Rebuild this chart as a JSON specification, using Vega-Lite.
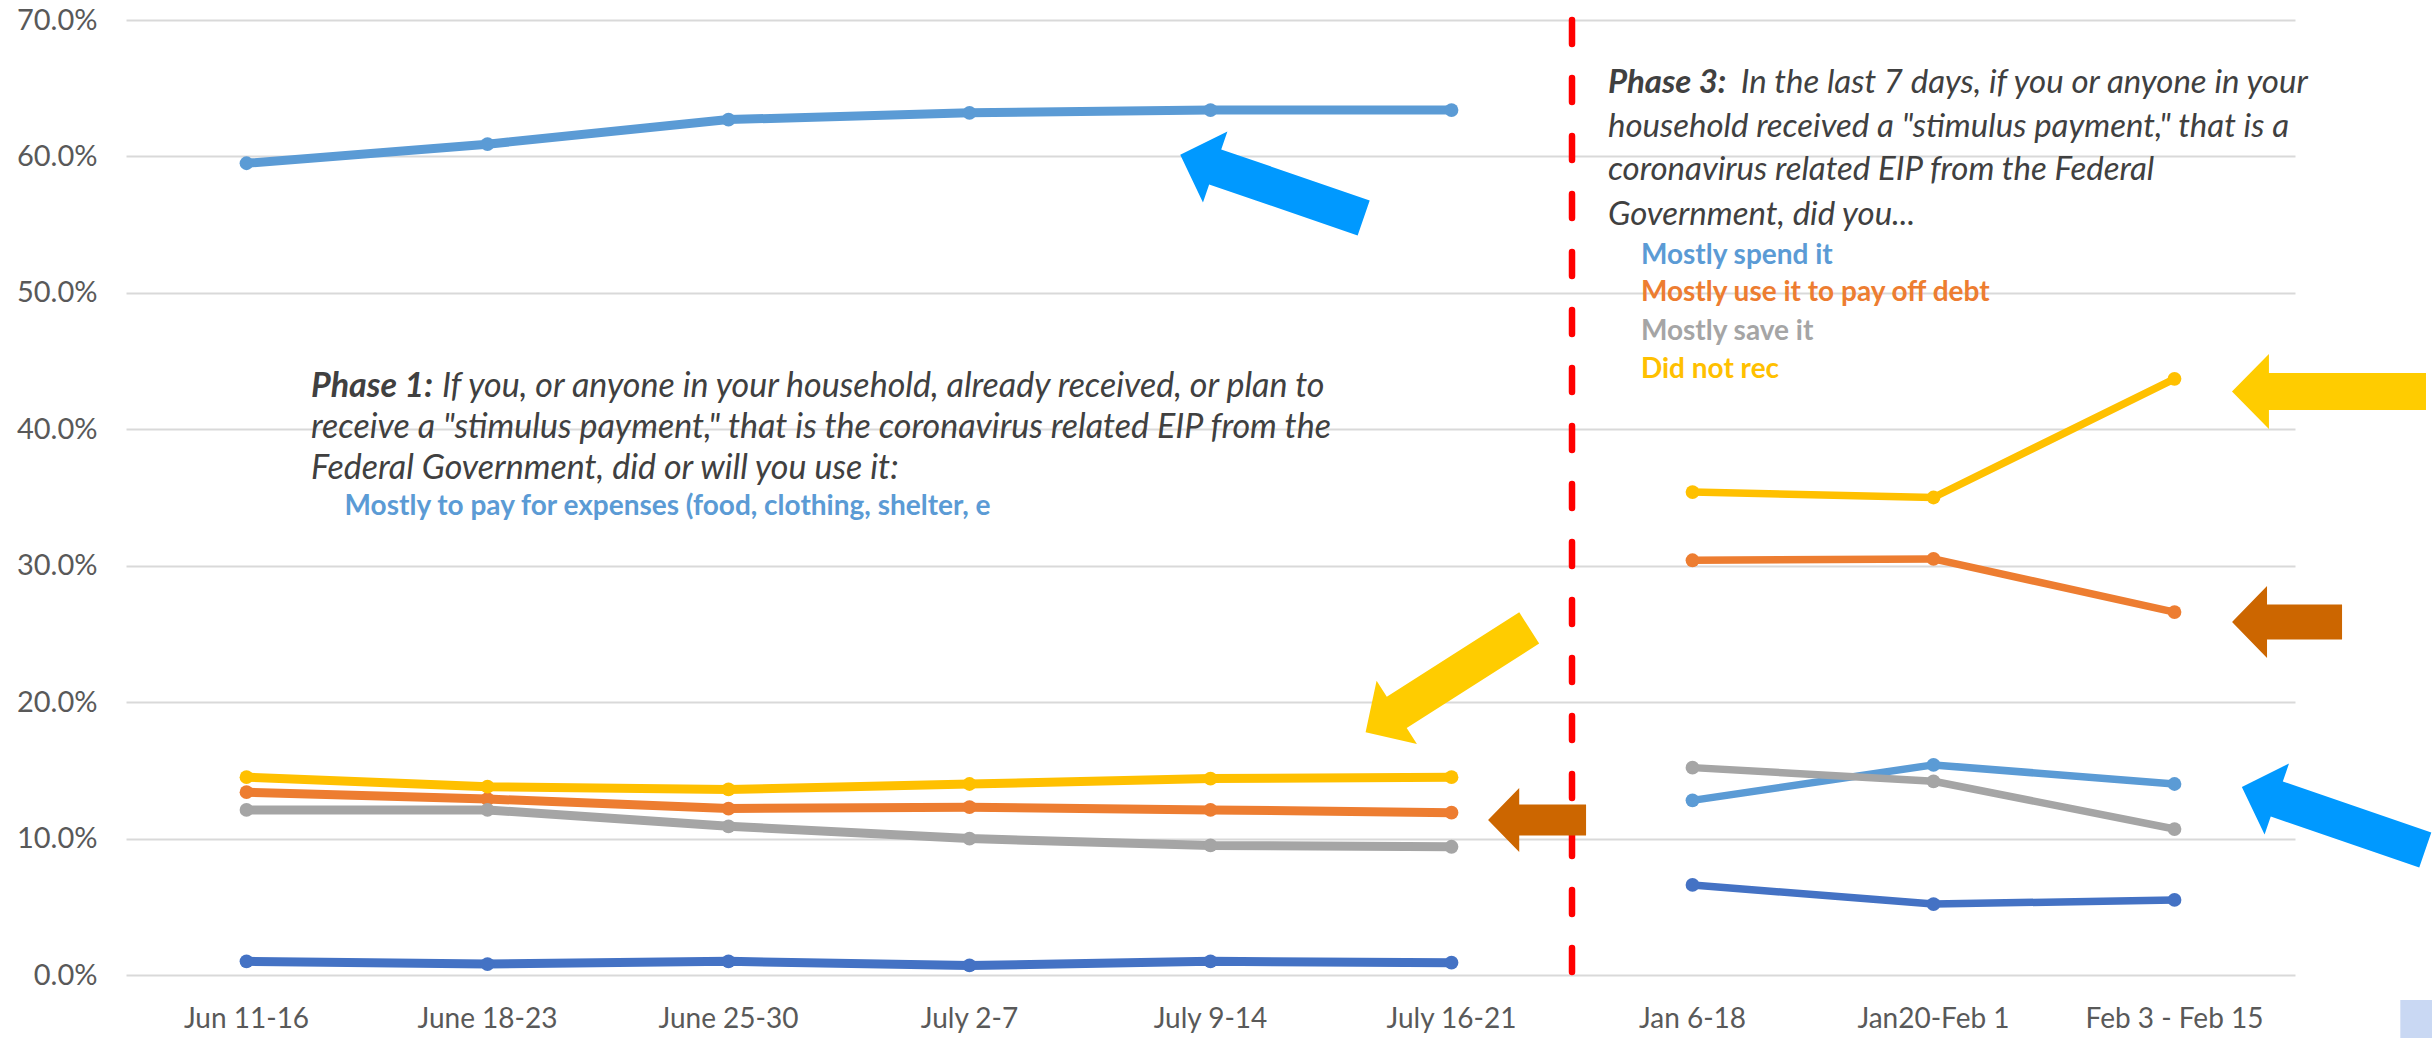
{
  "$schema": "https://vega.github.io/schema/vega-lite/v6.json",
  "autosize": {"type": "none"},
  "width": 2169,
  "height": 955,
  "padding": {"left": 126, "top": 20, "right": 137, "bottom": 63},
  "background": "white",
  "config": {"view": {"stroke": null}, "font": "Lato"},
  "datasets": {
    "pulse": [
      {"period": "Jun 11-16", "phase": "Phase 1", "series": "Mostly spend it", "share": 0.595},
      {"period": "June 18-23", "phase": "Phase 1", "series": "Mostly spend it", "share": 0.609},
      {"period": "June 25-30", "phase": "Phase 1", "series": "Mostly spend it", "share": 0.627},
      {"period": "July 2-7", "phase": "Phase 1", "series": "Mostly spend it", "share": 0.632},
      {"period": "July 9-14", "phase": "Phase 1", "series": "Mostly spend it", "share": 0.634},
      {"period": "July 16-21", "phase": "Phase 1", "series": "Mostly spend it", "share": 0.634},
      {"period": "Jan 6-18", "phase": "Phase 3", "series": "Mostly spend it", "share": 0.128},
      {"period": "Jan20-Feb 1", "phase": "Phase 3", "series": "Mostly spend it", "share": 0.154},
      {"period": "Feb 3 - Feb 15", "phase": "Phase 3", "series": "Mostly spend it", "share": 0.140},

      {"period": "Jun 11-16", "phase": "Phase 1", "series": "Mostly use it to pay off debt", "share": 0.134},
      {"period": "June 18-23", "phase": "Phase 1", "series": "Mostly use it to pay off debt", "share": 0.129},
      {"period": "June 25-30", "phase": "Phase 1", "series": "Mostly use it to pay off debt", "share": 0.122},
      {"period": "July 2-7", "phase": "Phase 1", "series": "Mostly use it to pay off debt", "share": 0.123},
      {"period": "July 9-14", "phase": "Phase 1", "series": "Mostly use it to pay off debt", "share": 0.121},
      {"period": "July 16-21", "phase": "Phase 1", "series": "Mostly use it to pay off debt", "share": 0.119},
      {"period": "Jan 6-18", "phase": "Phase 3", "series": "Mostly use it to pay off debt", "share": 0.304},
      {"period": "Jan20-Feb 1", "phase": "Phase 3", "series": "Mostly use it to pay off debt", "share": 0.305},
      {"period": "Feb 3 - Feb 15", "phase": "Phase 3", "series": "Mostly use it to pay off debt", "share": 0.266},

      {"period": "Jun 11-16", "phase": "Phase 1", "series": "Mostly save it", "share": 0.121},
      {"period": "June 18-23", "phase": "Phase 1", "series": "Mostly save it", "share": 0.121},
      {"period": "June 25-30", "phase": "Phase 1", "series": "Mostly save it", "share": 0.109},
      {"period": "July 2-7", "phase": "Phase 1", "series": "Mostly save it", "share": 0.100},
      {"period": "July 9-14", "phase": "Phase 1", "series": "Mostly save it", "share": 0.095},
      {"period": "July 16-21", "phase": "Phase 1", "series": "Mostly save it", "share": 0.094},
      {"period": "Jan 6-18", "phase": "Phase 3", "series": "Mostly save it", "share": 0.152},
      {"period": "Jan20-Feb 1", "phase": "Phase 3", "series": "Mostly save it", "share": 0.142},
      {"period": "Feb 3 - Feb 15", "phase": "Phase 3", "series": "Mostly save it", "share": 0.107},

      {"period": "Jun 11-16", "phase": "Phase 1", "series": "Did not receive", "share": 0.145},
      {"period": "June 18-23", "phase": "Phase 1", "series": "Did not receive", "share": 0.138},
      {"period": "June 25-30", "phase": "Phase 1", "series": "Did not receive", "share": 0.136},
      {"period": "July 2-7", "phase": "Phase 1", "series": "Did not receive", "share": 0.140},
      {"period": "July 9-14", "phase": "Phase 1", "series": "Did not receive", "share": 0.144},
      {"period": "July 16-21", "phase": "Phase 1", "series": "Did not receive", "share": 0.145},
      {"period": "Jan 6-18", "phase": "Phase 3", "series": "Did not receive", "share": 0.354},
      {"period": "Jan20-Feb 1", "phase": "Phase 3", "series": "Did not receive", "share": 0.350},
      {"period": "Feb 3 - Feb 15", "phase": "Phase 3", "series": "Did not receive", "share": 0.437},

      {"period": "Jun 11-16", "phase": "Phase 1", "series": "Did not report", "share": 0.010},
      {"period": "June 18-23", "phase": "Phase 1", "series": "Did not report", "share": 0.008},
      {"period": "June 25-30", "phase": "Phase 1", "series": "Did not report", "share": 0.010},
      {"period": "July 2-7", "phase": "Phase 1", "series": "Did not report", "share": 0.007},
      {"period": "July 9-14", "phase": "Phase 1", "series": "Did not report", "share": 0.010},
      {"period": "July 16-21", "phase": "Phase 1", "series": "Did not report", "share": 0.009},
      {"period": "Jan 6-18", "phase": "Phase 3", "series": "Did not report", "share": 0.066},
      {"period": "Jan20-Feb 1", "phase": "Phase 3", "series": "Did not report", "share": 0.052},
      {"period": "Feb 3 - Feb 15", "phase": "Phase 3", "series": "Did not report", "share": 0.055}
    ]
  },
  "layer": [
    {
      "data": {"name": "pulse"},
      "mark": {
        "type": "line",
        "strokeJoin": "round",
        "strokeCap": "round",
        "point": {"filled": true, "size": 190, "opacity": 1}
      },
      "encoding": {
        "x": {
          "field": "period",
          "type": "ordinal",
          "scale": {
            "type": "band",
            "paddingInner": 0,
            "paddingOuter": 0,
            "domain": ["Jun 11-16", "June 18-23", "June 25-30", "July 2-7", "July 9-14", "July 16-21", "Jan 6-18", "Jan20-Feb 1", "Feb 3 - Feb 15"]
          },
          "axis": {
            "title": null,
            "ticks": false,
            "domain": false,
            "grid": false,
            "labelAngle": 0,
            "labelFont": "Lato",
            "labelFontSize": 28,
            "labelColor": "#595959",
            "labelPadding": 30
          }
        },
        "y": {
          "field": "share",
          "type": "quantitative",
          "scale": {"domain": [0, 0.7], "nice": false},
          "axis": {
            "title": null,
            "values": [0, 0.1, 0.2, 0.3, 0.4, 0.5, 0.6, 0.7],
            "format": ".1%",
            "grid": true,
            "gridColor": "#D9D9D9",
            "gridWidth": 2,
            "domain": false,
            "ticks": false,
            "labelFont": "Lato",
            "labelFontSize": 29,
            "labelColor": "#595959",
            "labelPadding": 29
          }
        },
        "color": {
          "field": "series",
          "type": "nominal",
          "scale": {
            "domain": ["Mostly spend it", "Mostly use it to pay off debt", "Mostly save it", "Did not receive", "Did not report"],
            "range": ["#5B9BD5", "#ED7D31", "#A5A5A5", "#FFC000", "#4472C4"]
          },
          "legend": null
        },
        "strokeWidth": {
          "field": "phase",
          "type": "nominal",
          "scale": {"domain": ["Phase 1", "Phase 3"], "range": [9, 7.5]},
          "legend": null
        },
        "detail": {"field": "phase"}
      }
    },
    {
      "data": {"values": [{}]},
      "mark": {"type": "rule", "color": "#FF0000", "strokeWidth": 6.5, "strokeDash": [24, 34], "strokeCap": "round"},
      "encoding": {"x": {"datum": "Jan 6-18", "type": "ordinal", "bandPosition": 0}}
    },
    {
      "data": {"values": [{}]},
      "mark": {"type": "point", "shape": "M-1,0L-0.619,-0.387L-0.619,-0.191L1,-0.191L1,0.191L-0.619,0.191L-0.619,0.387Z", "filled": true, "opacity": 1, "strokeWidth": 0, "size": 37636, "angle": 19, "color": "#0099FF"},
      "encoding": {"x": {"datum": "July 9-14", "type": "ordinal", "bandPosition": 0.755}, "y": {"datum": 0.578, "type": "quantitative"}}
    },
    {
      "data": {"values": [{}]},
      "mark": {"type": "point", "shape": "M-1,0L-0.619,-0.387L-0.619,-0.191L1,-0.191L1,0.191L-0.619,0.191L-0.619,0.387Z", "filled": true, "opacity": 1, "strokeWidth": 0, "size": 37636, "angle": 19, "color": "#0099FF"},
      "encoding": {"x": {"datum": "Feb 3 - Feb 15", "type": "ordinal", "bandPosition": 1.16}, "y": {"datum": 0.1147, "type": "quantitative"}}
    },
    {
      "data": {"values": [{}]},
      "mark": {"type": "point", "shape": "M-1,0L-0.619,-0.387L-0.619,-0.191L1,-0.191L1,0.191L-0.619,0.191L-0.619,0.387Z", "filled": true, "opacity": 1, "strokeWidth": 0, "size": 37636, "angle": 327.5, "color": "#FFCC00"},
      "encoding": {"x": {"datum": "July 16-21", "type": "ordinal", "bandPosition": 0.483}, "y": {"datum": 0.2162, "type": "quantitative"}}
    },
    {
      "data": {"values": [{}]},
      "mark": {"type": "point", "shape": "M-1,0L-0.619,-0.387L-0.619,-0.191L1,-0.191L1,0.191L-0.619,0.191L-0.619,0.387Z", "filled": true, "opacity": 1, "strokeWidth": 0, "size": 37636, "angle": 0, "color": "#FFCC00"},
      "encoding": {"x": {"datum": "Feb 3 - Feb 15", "type": "ordinal", "bandPosition": 1.141}, "y": {"datum": 0.4277, "type": "quantitative"}}
    },
    {
      "data": {"values": [{}]},
      "mark": {"type": "point", "shape": "M-1,0L-0.364,-0.655L-0.364,-0.318L1,-0.318L1,0.318L-0.364,0.318L-0.364,0.655Z", "filled": true, "opacity": 1, "strokeWidth": 0, "size": 12100, "angle": 0, "color": "#CC6600"},
      "encoding": {"x": {"datum": "Feb 3 - Feb 15", "type": "ordinal", "bandPosition": 0.967}, "y": {"datum": 0.2587, "type": "quantitative"}}
    },
    {
      "data": {"values": [{}]},
      "mark": {"type": "point", "shape": "M-1,0L-0.364,-0.655L-0.364,-0.318L1,-0.318L1,0.318L-0.364,0.318L-0.364,0.655Z", "filled": true, "opacity": 1, "strokeWidth": 0, "size": 9604, "angle": 0, "color": "#CC6600"},
      "encoding": {"x": {"datum": "July 16-21", "type": "ordinal", "bandPosition": 0.855}, "y": {"datum": 0.1136, "type": "quantitative"}}
    },
    {
      "data": {"values": [{}]},
      "mark": {"type": "point", "shape": "square", "filled": true, "opacity": 1, "strokeWidth": 0, "size": 1600, "color": "#C9D8F3"},
      "encoding": {"x": {"datum": "Feb 3 - Feb 15", "type": "ordinal", "bandPosition": 1.52}, "y": {"datum": -0.033, "type": "quantitative"}}
    },
    {
      "data": {"values": [{}]},
      "mark": {"type": "text", "text": "Phase 1:", "align": "left", "baseline": "middle", "font": "Lato", "fontSize": 34, "fontStyle": "italic", "fontWeight": "bold", "color": "#404040"},
      "encoding": {"x": {"datum": "Jun 11-16", "type": "ordinal", "bandPosition": 0.768}, "y": {"datum": 0.4312, "type": "quantitative"}}
    },
    {
      "data": {"values": [{}]},
      "mark": {"type": "text", "text": "If you, or anyone in your household, already received, or plan to", "align": "left", "baseline": "middle", "font": "Lato", "fontSize": 34, "fontStyle": "italic", "color": "#404040"},
      "encoding": {"x": {"datum": "June 18-23", "type": "ordinal", "bandPosition": 0.311}, "y": {"datum": 0.4312, "type": "quantitative"}}
    },
    {
      "data": {"values": [{}]},
      "mark": {"type": "text", "text": "receive a \"stimulus payment,\" that is the coronavirus related EIP from the", "align": "left", "baseline": "middle", "font": "Lato", "fontSize": 34, "fontStyle": "italic", "color": "#404040"},
      "encoding": {"x": {"datum": "Jun 11-16", "type": "ordinal", "bandPosition": 0.768}, "y": {"datum": 0.4007, "type": "quantitative"}}
    },
    {
      "data": {"values": [{}]},
      "mark": {"type": "text", "text": "Federal Government, did or will you use it:", "align": "left", "baseline": "middle", "font": "Lato", "fontSize": 34, "fontStyle": "italic", "color": "#404040"},
      "encoding": {"x": {"datum": "Jun 11-16", "type": "ordinal", "bandPosition": 0.768}, "y": {"datum": 0.3707, "type": "quantitative"}}
    },
    {
      "data": {"values": [{}]},
      "mark": {"type": "text", "text": "Mostly to pay for expenses  (food, clothing, shelter, e", "align": "left", "baseline": "middle", "font": "Lato", "fontSize": 28, "fontWeight": "bold"},
      "encoding": {"x": {"datum": "Jun 11-16", "type": "ordinal", "bandPosition": 0.907}, "y": {"datum": 0.3433, "type": "quantitative"}, "color": {"datum": "Mostly spend it"}}
    },
    {
      "data": {"values": [{}]},
      "mark": {"type": "text", "text": "Phase 3:", "align": "left", "baseline": "middle", "font": "Lato", "fontSize": 33, "fontStyle": "italic", "fontWeight": "bold", "color": "#404040"},
      "encoding": {"x": {"datum": "Jan 6-18", "type": "ordinal", "bandPosition": 0.149}, "y": {"datum": 0.6536, "type": "quantitative"}}
    },
    {
      "data": {"values": [{}]},
      "mark": {"type": "text", "text": "In the last 7 days, if you or anyone in your", "align": "left", "baseline": "middle", "font": "Lato", "fontSize": 33, "fontStyle": "italic", "color": "#404040"},
      "encoding": {"x": {"datum": "Jan 6-18", "type": "ordinal", "bandPosition": 0.7}, "y": {"datum": 0.6536, "type": "quantitative"}}
    },
    {
      "data": {"values": [{}]},
      "mark": {"type": "text", "text": "household received a \"stimulus payment,\" that is a", "align": "left", "baseline": "middle", "font": "Lato", "fontSize": 33, "fontStyle": "italic", "color": "#404040"},
      "encoding": {"x": {"datum": "Jan 6-18", "type": "ordinal", "bandPosition": 0.149}, "y": {"datum": 0.6218, "type": "quantitative"}}
    },
    {
      "data": {"values": [{}]},
      "mark": {"type": "text", "text": "coronavirus related EIP from the Federal", "align": "left", "baseline": "middle", "font": "Lato", "fontSize": 33, "fontStyle": "italic", "color": "#404040"},
      "encoding": {"x": {"datum": "Jan 6-18", "type": "ordinal", "bandPosition": 0.149}, "y": {"datum": 0.59, "type": "quantitative"}}
    },
    {
      "data": {"values": [{}]},
      "mark": {"type": "text", "text": "Government, did you...", "align": "left", "baseline": "middle", "font": "Lato", "fontSize": 33, "fontStyle": "italic", "color": "#404040"},
      "encoding": {"x": {"datum": "Jan 6-18", "type": "ordinal", "bandPosition": 0.149}, "y": {"datum": 0.5571, "type": "quantitative"}}
    },
    {
      "data": {"values": [{}]},
      "mark": {"type": "text", "text": "Mostly spend it", "align": "left", "baseline": "middle", "font": "Lato", "fontSize": 28, "fontWeight": "bold"},
      "encoding": {"x": {"datum": "Jan 6-18", "type": "ordinal", "bandPosition": 0.286}, "y": {"datum": 0.527, "type": "quantitative"}, "color": {"datum": "Mostly spend it"}}
    },
    {
      "data": {"values": [{}]},
      "mark": {"type": "text", "text": "Mostly use it to pay off debt", "align": "left", "baseline": "middle", "font": "Lato", "fontSize": 28, "fontWeight": "bold"},
      "encoding": {"x": {"datum": "Jan 6-18", "type": "ordinal", "bandPosition": 0.286}, "y": {"datum": 0.4999, "type": "quantitative"}, "color": {"datum": "Mostly use it to pay off debt"}}
    },
    {
      "data": {"values": [{}]},
      "mark": {"type": "text", "text": "Mostly save it", "align": "left", "baseline": "middle", "font": "Lato", "fontSize": 28, "fontWeight": "bold"},
      "encoding": {"x": {"datum": "Jan 6-18", "type": "ordinal", "bandPosition": 0.286}, "y": {"datum": 0.4713, "type": "quantitative"}, "color": {"datum": "Mostly save it"}}
    },
    {
      "data": {"values": [{}]},
      "mark": {"type": "text", "text": "Did not rec", "align": "left", "baseline": "middle", "font": "Lato", "fontSize": 28, "fontWeight": "bold"},
      "encoding": {"x": {"datum": "Jan 6-18", "type": "ordinal", "bandPosition": 0.286}, "y": {"datum": 0.4435, "type": "quantitative"}, "color": {"datum": "Did not receive"}}
    }
  ]
}
